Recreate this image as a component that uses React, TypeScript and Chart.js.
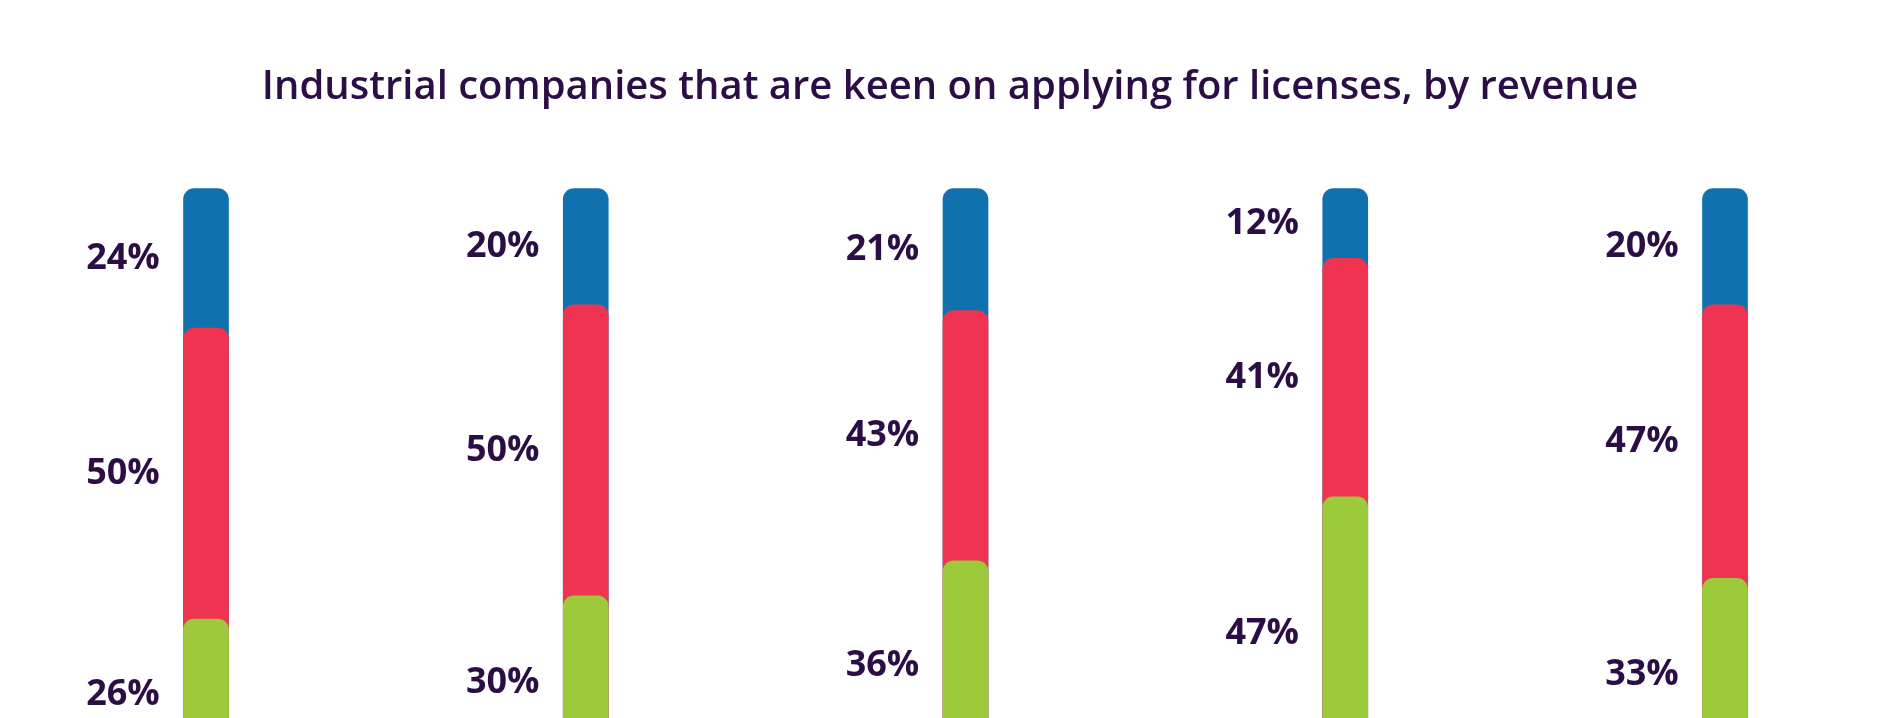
import React, { useEffect, useRef } from "react";
import { Chart, registerables } from "chart.js";

Chart.register(...registerables);

// ---- Data ----
const categories = ["Revenue group 1", "Revenue group 2", "Revenue group 3", "Revenue group 4", "Revenue group 5"];
const seriesNames = ["Upper segment", "Middle segment", "Lower segment"];
const upperShare = [24, 20, 21, 12, 20];
const middleShare = [50, 50, 43, 41, 47];
const lowerShare = [26, 30, 36, 47, 33];
const titleText = "Industrial companies that are keen on applying for licenses, by revenue";

// ---- Styles ----
const BLUE = "#1071AF";
const RED = "#EE3451";
const GREEN = "#9CCA3B";
const TEXT = "#2B0E45";
const W = 1883;
const H = 718;

export default function App() {
  const ref = useRef<HTMLCanvasElement | null>(null);

  useEffect(() => {
    if (!ref.current) return;

    // Overlapping bars built from the cumulative shares, so each upper segment
    // shows behind the rounded top of the segment below it.
    const lowerTop = lowerShare.map((v) => v);
    const middleTop = middleShare.map((v, i) => v + lowerShare[i]);
    const upperTop = upperShare.map((v, i) => v + middleShare[i] + lowerShare[i]);

    const titlePlugin = {
      id: "pageTitle",
      afterDraw(chart: any) {
        const { ctx } = chart;
        ctx.save();
        ctx.font = "600 40px 'Open Sans'";
        ctx.fillStyle = TEXT;
        ctx.textAlign = "center";
        ctx.textBaseline = "middle";
        ctx.fillText(titleText, 950, 88);
        ctx.restore();
      },
    };

    const labelPlugin = {
      id: "segmentLabels",
      afterDatasetsDraw(chart: any) {
        const { ctx, scales } = chart;
        const x = scales.x;
        const y = scales.y;
        ctx.save();
        ctx.font = "700 36px 'Open Sans'";
        ctx.fillStyle = TEXT;
        ctx.textAlign = "center";
        ctx.textBaseline = "middle";
        categories.forEach((_, i) => {
          const segs: [number, number, number][] = [
            [lowerShare[i], 0, lowerTop[i]],
            [middleShare[i], lowerTop[i], middleTop[i]],
            [upperShare[i], middleTop[i], upperTop[i]],
          ];
          const xc = x.getPixelForValue(i) - 83;
          segs.forEach(([v, lo, hi]) => {
            const yc = (y.getPixelForValue(lo) + y.getPixelForValue(hi)) / 2;
            ctx.fillText(`${v}%`, xc, yc);
          });
        });
        ctx.restore();
      },
    };

    const radius = { topLeft: 11, topRight: 11, bottomLeft: 0, bottomRight: 0 };
    const clip = { left: 40, right: 40, top: 4, bottom: 0 };

    const chart = new Chart(ref.current, {
      type: "bar",
      data: {
        labels: categories,
        datasets: [
          {
            label: seriesNames[2],
            data: lowerTop,
            backgroundColor: GREEN,
            order: 1,
            grouped: false,
            barThickness: 45,
            borderRadius: radius,
            borderSkipped: "start",
            clip,
          } as any,
          {
            label: seriesNames[1],
            data: middleTop,
            backgroundColor: RED,
            order: 2,
            grouped: false,
            barThickness: 45,
            borderRadius: radius,
            borderSkipped: "start",
            clip,
          } as any,
          {
            label: seriesNames[0],
            data: upperTop,
            backgroundColor: BLUE,
            order: 3,
            grouped: false,
            barThickness: 45,
            borderRadius: radius,
            borderSkipped: "start",
            clip,
          } as any,
        ],
      },
      options: {
        responsive: false,
        animation: false,
        devicePixelRatio: 1,
        layout: { padding: { left: 206, right: 158, top: 188.5, bottom: 0 } },
        plugins: {
          legend: { display: false },
          tooltip: { enabled: false },
          title: { display: false },
        },
        scales: {
          x: {
            type: "category",
            offset: false,
            display: false,
            grid: { display: false },
          },
          y: {
            min: 9,
            max: 100,
            display: false,
            grid: { display: false },
          },
        },
      },
      plugins: [labelPlugin, titlePlugin],
    });

    return () => chart.destroy();
  }, []);

  return (
    <div style={{ position: "absolute", left: 0, top: 0, width: W, height: H, background: "#fff" }}>
      <canvas ref={ref} width={W} height={H} style={{ display: "block" }} />
    </div>
  );
}
